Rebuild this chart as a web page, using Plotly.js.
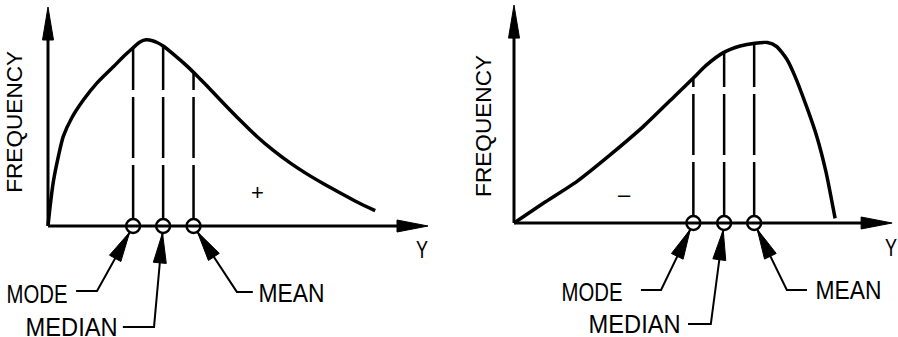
<!DOCTYPE html>
<html><head><meta charset="utf-8">
<script src="https://cdn.plot.ly/plotly-3.0.1.min.js"></script>
<style>html,body{margin:0;padding:0;background:#fff}#chart{width:898px;height:337px}</style>
</head><body><div id="chart"></div>
<script>
// ---------- DATA (arbitrary units) ----------
// Left panel: positively skewed distribution
const leftY    = [0, 0.05, 0.14, 0.27, 0.40, 0.62, 0.93, 1.28, 1.72, 2.00, 2.24, 2.42, 2.58, 2.75, 2.87, 3.03, 3.29, 3.66, 3.92, 4.18, 4.61, 5.05, 5.49, 5.93, 6.37, 6.81, 7.24, 7.68, 8.12, 8.61];
const leftFreq = [0, 0.81, 2.02, 3.16, 4.08, 4.92, 5.75, 6.51, 7.27, 7.76, 8.14, 8.40, 8.50, 8.46, 8.38, 8.22, 7.86, 7.30, 6.86, 6.40, 5.62, 4.84, 4.10, 3.45, 2.88, 2.38, 1.94, 1.52, 1.11, 0.70];
// Right panel: negatively skewed distribution
const rightY    = [0, 0.77, 1.65, 2.53, 3.40, 4.28, 4.72, 5.07, 5.51, 5.95, 6.34, 6.67, 6.91, 7.18, 7.39, 7.70, 7.97, 8.21, 8.45];
const rightFreq = [0, 0.90, 1.89, 3.11, 4.40, 5.88, 6.62, 7.22, 7.78, 8.08, 8.21, 8.24, 8.06, 7.48, 6.72, 5.31, 3.94, 2.33, 0.21];
// Measures of central tendency (position on Y axis, height where the line meets the curve)
const measureLabels    = ['MODE', 'MEDIAN', 'MEAN'];
const leftMeasureY     = [2.24, 3.03, 3.83];
const leftMeasureTop   = [8.14, 8.22, 7.01];
const rightMeasureY    = [4.72, 5.53, 6.32];
const rightMeasureTop  = [6.62, 7.80, 8.20];
const axisTitleX = 'Y';
const axisTitleY = 'FREQUENCY';
const skewSigns = ['+', '–'];

// ---------- LAYOUT CONFIG ----------
const W = 898, H = 337, PX = 38, PY = 21.9;
const FONT = 'Liberation Sans, Arial, sans-serif';
// rendered widths of texts (px) to mimic the narrow plotter lettering
const textWidths = { MODE: 61, MEDIAN: 92, MEAN: 66, FREQUENCY: 142, Y: 12 };
const panels = [
  { xa: 'x', ya: 'y', origin: [48, 226], dom: [0, 0.5],
    Y: leftY, F: leftFreq, mY: leftMeasureY, mTop: leftMeasureTop, axisLen: [10, 10],
    labelPos: [ {x: -0.28, y: -3.11, lead: [[0.74, -2.97], [1.29, -2.97]]},
                {x: 0.61,  y: -4.60, lead: [[1.97, -4.61], [2.79, -4.61]]},
                {x: 6.41,  y: -3.05, lead: [[5.39, -3.01], [4.97, -3.01]]} ],
    sign: skewSigns[0], signPos: [5.50, 1.51], yLabPos: [9.84, -1.05], freqPos: [-0.87, 4.75] },
  { xa: 'x2', ya: 'y2', origin: [514, 223], dom: [0.5, 1],
    Y: rightY, F: rightFreq, mY: rightMeasureY, mTop: rightMeasureTop, axisLen: [9.95, 9.95],
    labelPos: [ {x: 2.04, y: -3.15, lead: [[3.34, -3.06], [3.87, -3.06]]},
                {x: 3.18, y: -4.60, lead: [[4.58, -4.61], [5.18, -4.61]]},
                {x: 8.80, y: -3.05, lead: [[7.71, -3.06], [7.18, -3.06]]} ],
    sign: skewSigns[1], signPos: [2.92, 1.32], yLabPos: [9.92, -1.10], freqPos: [-0.79, 4.43] }
];

const traces = [], shapes = [], annotations = [];
const layout = { width: W, height: H, margin: {l: 0, r: 0, t: 0, b: 0},
  paper_bgcolor: '#fff', plot_bgcolor: '#fff', showlegend: false, hovermode: false };

const R = 7, AL = 30, AW = 6.5;  // circle radius, arrowhead length / half width (px)

panels.forEach((p, i) => {
  const sfx = i === 0 ? '' : '2';
  const [ox, oy] = p.origin;
  layout['xaxis' + sfx] = { domain: p.dom, range: [(p.dom[0] * W - ox) / PX, (p.dom[1] * W - ox) / PX],
    visible: false, fixedrange: true, anchor: 'y' + sfx };
  layout['yaxis' + sfx] = { domain: [0, 1], range: [(oy - H) / PY, oy / PY],
    visible: false, fixedrange: true, anchor: 'x' + sfx };
  const ref = { xref: p.xa, yref: p.ya };

  // leader lines (below traces, the white circles hide their ends)
  p.labelPos.forEach((lp, k) => {
    const pts = lp.lead.concat([[p.mY[k], 0]]);
    shapes.push(Object.assign({ type: 'path', layer: 'below',
      path: 'M' + pts.map(q => q[0] + ',' + q[1]).join(' L'),
      line: { color: '#000', width: 2 } }, ref));
  });

  // curve
  traces.push({ x: p.Y, y: p.F, xaxis: p.xa, yaxis: p.ya, mode: 'lines',
    line: { color: '#000', width: 3.5, shape: 'spline', smoothing: 0.6 } });
  // dashed verticals
  p.mY.forEach((mx, k) => {
    traces.push({ x: [mx, mx], y: [0, p.mTop[k]], xaxis: p.xa, yaxis: p.ya, mode: 'lines',
      line: { color: '#000', width: 2.5, dash: '61px,7px' } });
  });
  // circles on the axis
  traces.push({ x: p.mY, y: p.mY.map(() => 0), xaxis: p.xa, yaxis: p.ya, mode: 'markers',
    marker: { symbol: 'circle', size: 2 * R, color: '#fff', line: { color: '#000', width: 2.4 } } });

  // axes with arrows
  shapes.push(Object.assign({ type: 'line', x0: 0, y0: 0, x1: p.axisLen[0] - 20 / PX, y1: 0,
    line: { color: '#000', width: 3 } }, ref));
  shapes.push(Object.assign({ type: 'line', x0: 0, y0: 0, x1: 0, y1: p.axisLen[1] - 20 / PY,
    line: { color: '#000', width: 3 } }, ref));
  shapes.push(Object.assign({ type: 'path', xsizemode: 'pixel', ysizemode: 'pixel',
    xanchor: p.axisLen[0], yanchor: 0, path: 'M0,0 L-31,6 L-31,-6 Z',
    fillcolor: '#000', line: { color: '#000', width: 1 } }, ref));
  shapes.push(Object.assign({ type: 'path', xsizemode: 'pixel', ysizemode: 'pixel',
    xanchor: 0, yanchor: p.axisLen[1], path: 'M0,0 L-5.5,-33 L5.5,-33 Z',
    fillcolor: '#000', line: { color: '#000', width: 1 } }, ref));

  // arrowheads pointing at the circles + labels
  p.labelPos.forEach((lp, k) => {
    const el = lp.lead[lp.lead.length - 1];
    const dx = (el[0] - p.mY[k]) * PX, dy = el[1] * PY;
    const len = Math.hypot(dx, dy), ux = dx / len, uy = dy / len;
    const tx = R * ux, ty = R * uy, bx = (R + AL) * ux, by = (R + AL) * uy;
    const nx = -uy * AW, ny = ux * AW;
    shapes.push(Object.assign({ type: 'path', xsizemode: 'pixel', ysizemode: 'pixel',
      xanchor: p.mY[k], yanchor: 0,
      path: `M${tx},${ty} L${bx + nx},${by + ny} L${bx - nx},${by - ny} Z`,
      fillcolor: '#000', line: { color: '#000', width: 1 } }, ref));
    annotations.push(Object.assign({ x: lp.x, y: lp.y, text: measureLabels[k], showarrow: false,
      xanchor: 'center', yanchor: 'middle', font: { family: FONT, size: 26, color: '#000' } }, ref));
  });

  // axis titles and sign
  annotations.push(Object.assign({ x: p.yLabPos[0], y: p.yLabPos[1], text: axisTitleX, showarrow: false,
    xanchor: 'center', yanchor: 'middle', font: { family: FONT, size: 24, color: '#000' } }, ref));
  annotations.push(Object.assign({ x: p.freqPos[0], y: p.freqPos[1], text: axisTitleY, showarrow: false,
    textangle: -90, xanchor: 'center', yanchor: 'middle',
    font: { family: FONT, size: 22, color: '#000' } }, ref));
  annotations.push(Object.assign({ x: p.signPos[0], y: p.signPos[1], text: p.sign, showarrow: false,
    xanchor: 'center', yanchor: 'middle', font: { family: FONT, size: 22, color: '#000' } }, ref));
});

layout.shapes = shapes;
layout.annotations = annotations;
Plotly.newPlot('chart', traces, layout, { staticPlot: true, displayModeBar: false }).then(gd => {
  gd.querySelectorAll('.annotation-text').forEach(el => {
    const w = textWidths[el.textContent];
    if (w) { el.setAttribute('textLength', w); el.setAttribute('lengthAdjust', 'spacingAndGlyphs'); }
  });
});
</script></body></html>
